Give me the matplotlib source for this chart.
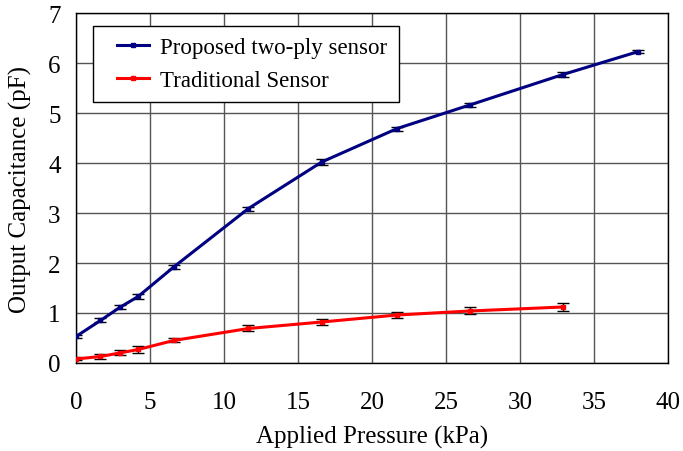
import matplotlib
matplotlib.use('Agg')
import matplotlib.pyplot as plt
from matplotlib.lines import Line2D
from matplotlib.legend_handler import HandlerLine2D
import numpy as np

plt.rcParams['font.family'] = ['Liberation Serif', 'DejaVu Serif']

# data
pressure_a = [0, 1.65, 2.95, 4.2, 6.6, 11.65, 16.6, 21.7, 26.6, 32.9, 38.0]
cap_a = [0.53, 0.85, 1.11, 1.33, 1.92, 3.09, 4.02, 4.69, 5.16, 5.77, 6.23]
err_a = [0.03, 0.04, 0.04, 0.05, 0.04, 0.04, 0.06, 0.04, 0.04, 0.05, 0.03]

pressure_b = [0, 1.65, 2.95, 4.2, 6.6, 11.65, 16.6, 21.7, 26.6, 32.9]
cap_b = [0.08, 0.13, 0.2, 0.27, 0.45, 0.69, 0.82, 0.96, 1.04, 1.12]
err_b = [0.03, 0.05, 0.05, 0.07, 0.04, 0.06, 0.06, 0.06, 0.07, 0.08]

labels = ['Proposed two-ply sensor', 'Traditional Sensor']
colors = ['#000080', '#ff0000']

fig = plt.figure(figsize=(6.83, 4.52), dpi=100)
ax = fig.add_axes([0.1113, 0.1947, 0.8668, 0.7743])

ax.errorbar(pressure_a, cap_a, yerr=err_a, color=colors[0], lw=2.2,
            marker='s', ms=3.5, ecolor='black', elinewidth=1, capsize=4,
            zorder=3)
ax.errorbar(pressure_b, cap_b, yerr=err_b, color=colors[1], lw=2.2,
            marker='s', ms=3.5, ecolor='black', elinewidth=1, capsize=4,
            zorder=3)

ax.set_xlim(0, 40)
ax.set_ylim(0, 7)
ax.set_xticks(np.arange(0, 41, 5))
ax.set_yticks(np.arange(0, 8, 1))
ax.grid(True, color='#555555', lw=1)
ax.tick_params(axis='x', labelsize=18, length=0, pad=20)
ax.tick_params(axis='y', labelsize=18, length=0, pad=11)
for s in ax.spines.values():
    s.set_color('black')
    s.set_linewidth(1)

ax.set_xlabel('Applied Pressure (kPa)', fontsize=18, va='center')
ax.set_ylabel('Output Capacitance (pF)', fontsize=18, va='center')
ax.xaxis.set_label_coords(0.5, -0.209)
ax.yaxis.set_label_coords(-0.094, 0.5)

handles = [Line2D([], [], color=c, lw=2.2, marker='s', ms=3.5) for c in colors]
leg = ax.legend(handles, labels, loc='upper left', bbox_to_anchor=(0.0287, 0.963),
                fontsize=16.5, frameon=True, fancybox=False, edgecolor='black',
                borderpad=0.49, borderaxespad=0, handlelength=1.97,
                handletextpad=0.48, labelspacing=0.5, framealpha=1,
                handler_map={Line2D: HandlerLine2D(xpad=0.57)})
leg.get_frame().set_linewidth(1)

fig.savefig('out.png', dpi=100)
